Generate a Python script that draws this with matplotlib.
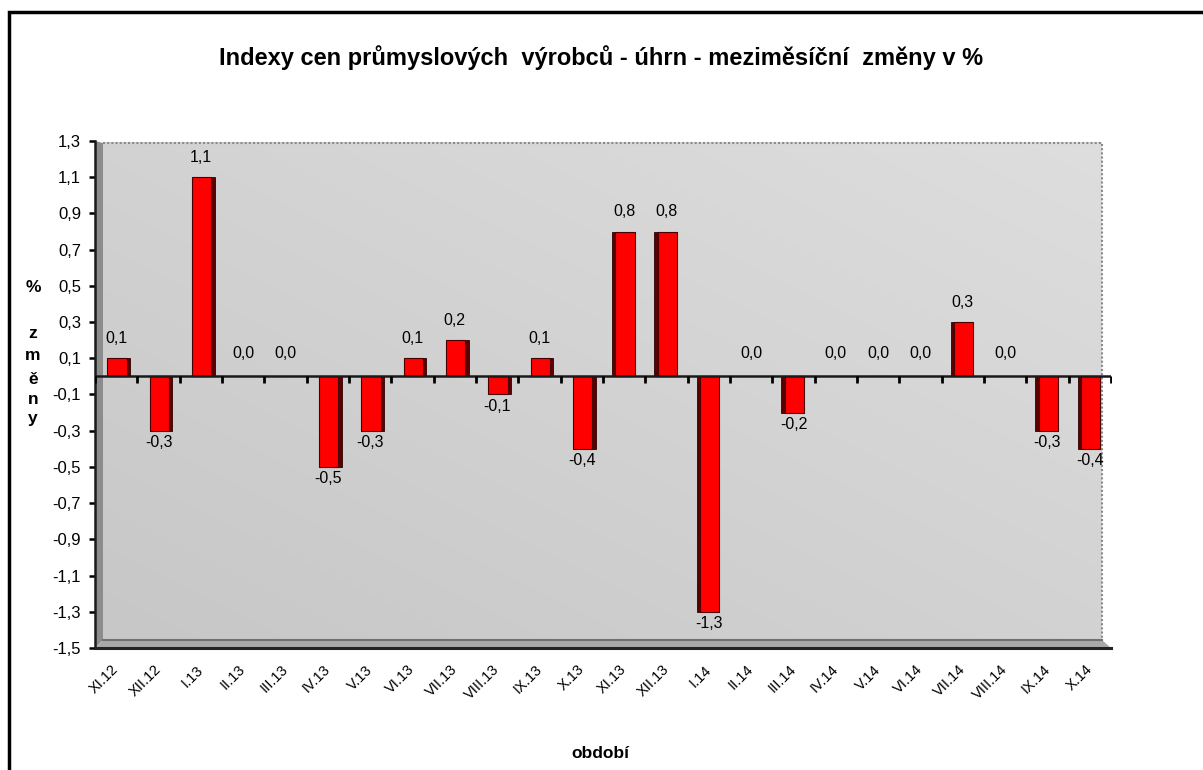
import numpy as np
import matplotlib
matplotlib.use('Agg')
import matplotlib.pyplot as plt
from matplotlib.patches import Rectangle, Polygon
from matplotlib.lines import Line2D
from matplotlib import markers

categories = ['XI.12', 'XII.12', 'I.13', 'II.13', 'III.13', 'IV.13', 'V.13', 'VI.13',
              'VII.13', 'VIII.13', 'IX.13', 'X.13', 'XI.13', 'XII.13', 'I.14', 'II.14',
              'III.14', 'IV.14', 'V.14', 'VI.14', 'VII.14', 'VIII.14', 'IX.14', 'X.14']
values = [0.1, -0.3, 1.1, 0.0, 0.0, -0.5, -0.3, 0.1, 0.2, -0.1, 0.1, -0.4,
          0.8, 0.8, -1.3, 0.0, -0.2, 0.0, 0.0, 0.0, 0.3, 0.0, -0.3, -0.4]
ytick_values = [-1.5, -1.3, -1.1, -0.9, -0.7, -0.5, -0.3, -0.1, 0.1, 0.3, 0.5, 0.7, 0.9, 1.1, 1.3]
title = 'Indexy cen průmyslových  výrobců - úhrn - meziměsíční  změny v %'
xlabel = 'období'
ylabel_top = '%'
ylabel_letters = ['z', 'm', 'ě', 'n', 'y']

plt.rcParams['font.family'] = ['Liberation Sans', 'DejaVu Sans']

W, H = 1203, 770
fig = plt.figure(figsize=(W / 100, H / 100), dpi=100)

# figure frame (only top and left visible)
fig.patches.append(Rectangle((9 / W, -0.2), 1.5, 0.2 + 1 - 11.5 / H, transform=fig.transFigure,
                             fill=False, edgecolor='black', linewidth=2.5, zorder=0))

ax_l, ax_r, ax_t, ax_b = 95, 1111, 141, 648
ax = fig.add_axes([ax_l / W, 1 - ax_b / H, (ax_r - ax_l) / W, (ax_b - ax_t) / H])
ax.set_facecolor('none')

# 3D wall geometry in axes fraction
aw = ax_r - ax_l
ah = ax_b - ax_t
wx = 8 / aw
wy = 8 / ah
wr = (1102 - ax_l) / aw
wt = 1 - 2 / ah

# back wall gradient
n = 200
u = np.linspace(0, 1, n)
U, V = np.meshgrid(u, u)
Z = (U + V) / 2
c0 = np.array([0.78, 0.78, 0.78])
c1 = np.array([0.87, 0.87, 0.87])
img = c0[None, None, :] + (c1 - c0)[None, None, :] * Z[:, :, None]
ax.imshow(img, extent=(wx, wr, wy, wt), transform=ax.transAxes, origin='lower',
          aspect='auto', zorder=0, interpolation='bilinear')

# side wall and floor
ax.add_patch(Polygon([(0, 0), (0, 1), (wx, wt), (wx, wy)], closed=True, transform=ax.transAxes,
                     facecolor='#8c8c8c', edgecolor='none', zorder=0.5))
ax.add_patch(Polygon([(0, 0), (wx, wy), (wr, wy), (1, 0)], closed=True, transform=ax.transAxes,
                     facecolor='#a9a9a9', edgecolor='none', zorder=0.5))
ax.add_line(Line2D([wx, wr, wr], [wt, wt, wy], transform=ax.transAxes, color='#8a8a8a',
                   linestyle=(0, (1, 1)), linewidth=1.5, zorder=0.6))
ax.add_line(Line2D([wx, wr], [wy, wy], transform=ax.transAxes, color='#707070',
                   linewidth=1.5, zorder=0.6))

x = np.arange(len(categories)) + 0.5
vals = np.array(values)
face_w = 0.46
side_w = 0.08
for i, (xi, v) in enumerate(zip(x, vals)):
    if v == 0:
        continue
    fx = xi - face_w / 2 + 0.02
    sx = fx + face_w if i < 12 else fx - side_w
    ax.bar(sx, v, width=side_w, align='edge', color='#5a0000', edgecolor='#300000',
           linewidth=0.6, zorder=2)
    ax.bar(fx, v, width=face_w, align='edge', color='#ff0000', edgecolor='#4a0000',
           linewidth=0.8, zorder=3)

# data labels
lab_fs = 11.5
for xi, v in zip(x, vals):
    lab = f'{v:.1f}'.replace('.', ',')
    if v > 0:
        ax.annotate(lab, (xi, v), xytext=(0, 9), textcoords='offset points', ha='center',
                    va='bottom', fontsize=lab_fs, zorder=5)
    elif v < 0:
        ax.annotate(lab, (xi, v), xytext=(0, -3), textcoords='offset points', ha='center',
                    va='top', fontsize=lab_fs, zorder=5)
    else:
        ax.annotate(lab, (xi, v), xytext=(0, 11), textcoords='offset points', ha='center',
                    va='bottom', fontsize=lab_fs, zorder=5)

ax.set_xlim(0, len(categories))
ax.set_ylim(-1.5, 1.3)

# zero axis with tick marks at category boundaries
ax.axhline(0, color='#1a1a1a', linewidth=1.8, zorder=4)
ax.plot(np.arange(len(categories) + 1), np.zeros(len(categories) + 1), linestyle='none',
        marker=markers.TICKDOWN, markersize=5, markeredgewidth=2, color='black', zorder=4)

ax.set_yticks(ytick_values)
ax.set_yticklabels([f'{t:.1f}'.replace('.', ',') for t in ytick_values], fontsize=12)
ax.set_xticks(x)
ax.set_xticklabels(categories, rotation=45, ha='right', va='center', rotation_mode='anchor',
                   fontsize=10.5)
ax.tick_params(axis='x', length=0, pad=14)
ax.tick_params(axis='y', direction='out', length=4, width=1.8, pad=6)

for s in ['top', 'right']:
    ax.spines[s].set_visible(False)
ax.spines['left'].set_linewidth(1.8)
ax.spines['left'].set_color('#1a1a1a')
ax.spines['bottom'].set_linewidth(2.2)
ax.spines['bottom'].set_linestyle((0, (1, 1)))
ax.spines['bottom'].set_color('#222222')

fig.text(0.5, 1 - 58 / H, title, ha='center', va='center', fontsize=17, fontweight='bold')
fig.text(600 / W, 1 - 753 / H, xlabel, ha='center', va='center', fontsize=12.5, fontweight='bold')
fig.text(33 / W, 1 - 287 / H, ylabel_top, ha='center', va='center', fontsize=12.5, fontweight='bold')
for letter, yy in zip(ylabel_letters, [333, 356, 379, 400, 419]):
    fig.text(33 / W, 1 - yy / H, letter, ha='center', va='center', fontsize=12.5, fontweight='bold')

fig.savefig('out.png', dpi=100)
